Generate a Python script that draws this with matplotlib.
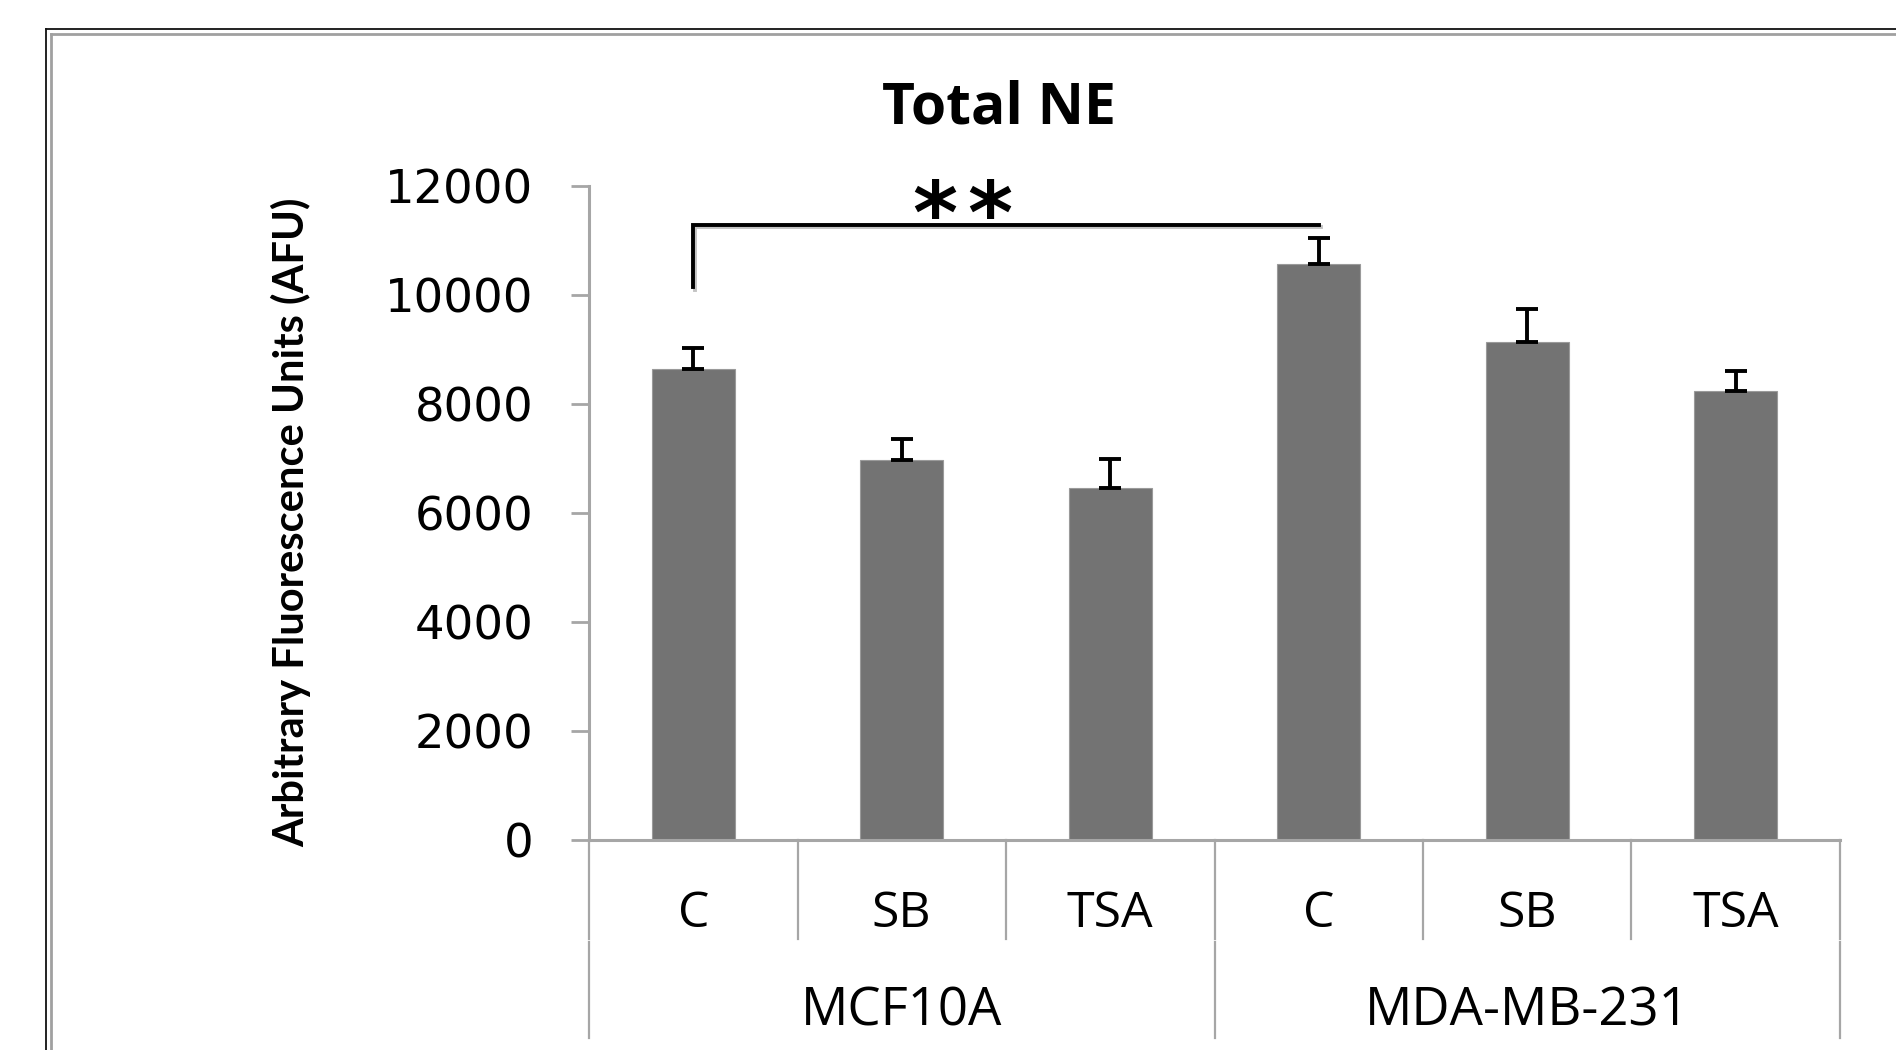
import matplotlib.pyplot as plt
import matplotlib.transforms as mtransforms
import matplotlib.patheffects as pe
from matplotlib.lines import Line2D

treatments = ['C', 'SB', 'TSA', 'C', 'SB', 'TSA']
cell_lines = ['MCF10A', 'MDA-MB-231']
afu_mean = [8650, 6980, 6450, 10560, 9130, 8240]
afu_err = [370, 370, 545, 490, 605, 365]
yticks = [0, 2000, 4000, 6000, 8000, 10000, 12000]

W, H = 1896, 1050
fig = plt.figure(figsize=(W / 100, H / 100), dpi=100)

# outer double frame (dark + grey), open to the right and bottom
fig.add_artist(Line2D([45.5 / W, 1], [1 - 29 / H, 1 - 29 / H], color='#111111', lw=1.3))
fig.add_artist(Line2D([45.5 / W, 45.5 / W], [0, 1 - 29 / H], color='#111111', lw=1.3))
fig.add_artist(Line2D([50.5 / W, 1], [1 - 33.5 / H, 1 - 33.5 / H], color='#a0a0a0', lw=2))
fig.add_artist(Line2D([50.5 / W, 50.5 / W], [0, 1 - 33.5 / H], color='#a0a0a0', lw=2))

ax = fig.add_axes([589 / W, 210 / H, (1840 - 589) / W, (840 - 186) / H])
x = list(range(len(afu_mean)))
ax.bar(x, afu_mean, width=0.4, color='#737373', edgecolor='#9a9a9a', linewidth=0.8, zorder=2)
ax.errorbar(x, afu_mean, yerr=[[0] * len(afu_err), afu_err], fmt='none',
            ecolor='black', elinewidth=2.8, capsize=8, capthick=2.8, zorder=3)

ax.set_xlim(-0.5, len(x) - 0.5)
ax.set_ylim(0, 12000)
ax.set_yticks(yticks)
ax.set_yticklabels([str(t) for t in yticks], fontsize=33.5, family='DejaVu Sans')
ax.tick_params(axis='y', length=13, width=2, color='#a6a6a6', pad=27)
ax.set_xticks([])
for s in ['top', 'right']:
    ax.spines[s].set_visible(False)
for s in ['left', 'bottom']:
    ax.spines[s].set_color('#a6a6a6')
    ax.spines[s].set_linewidth(2.2)

# category labels and dividers below the axis
tr = mtransforms.blended_transform_factory(ax.transData, fig.transFigure)
fy = lambda px: 1 - px / H
for i, t in enumerate(treatments):
    ax.text(i, fy(914), t, transform=tr, ha='center', va='center',
            fontsize=36, family='Open Sans')
for b in range(len(x) + 1):
    xb = b - 0.5
    ax.plot([xb, xb], [fy(840), fy(939)], transform=tr, color='#a6a6a6', lw=1.6, clip_on=False)
    if b % 3 == 0:
        ax.plot([xb, xb], [fy(942), fy(1038)], transform=tr, color='#a6a6a6', lw=1.6, clip_on=False)
for g, name in enumerate(cell_lines):
    ax.text(g * 3 + 1, fy(1012), name, transform=tr, ha='center', va='center',
            fontsize=38, family='Open Sans')

# significance bracket between the two controls
shadow = [pe.SimpleLineShadow(offset=(1.5, -2), shadow_color='#888888', alpha=0.5), pe.Normal()]
ax.plot([0, 0, 3], [10150, 11290, 11290], color='black', lw=2.8, clip_on=False,
        path_effects=shadow, solid_joinstyle='miter')
for xs in [1.16, 1.42]:
    ax.text(xs, 10950, '*', ha='center', va='baseline', fontsize=62,
            fontweight='bold', family='DejaVu Sans')

fig.text(999 / W, fy(108), 'Total NE', ha='center', va='center',
         fontsize=41, fontweight='bold', family='Open Sans')
fig.text(291 / W, fy(522), 'Arbitrary Fluorescence Units (AFU)', rotation=90,
         ha='center', va='center', fontsize=30, fontweight='bold', family='Lato')

fig.savefig('out.png', dpi=100)
